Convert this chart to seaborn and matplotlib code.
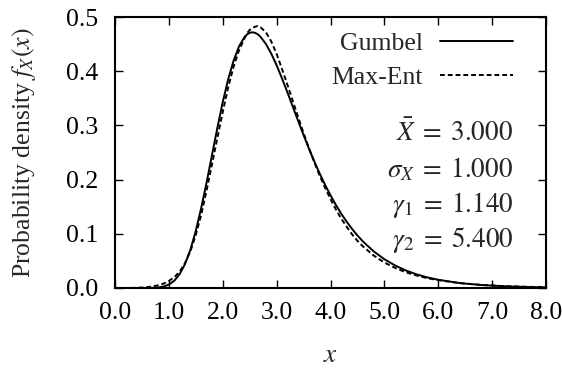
import numpy as np
import pandas as pd
import matplotlib
matplotlib.use("Agg")
import matplotlib.pyplot as plt
import seaborn as sns

x_vals = [0.0, 0.2, 0.4, 0.6, 0.7, 0.8, 0.9, 1.0, 1.1, 1.2, 1.3, 1.4, 1.5, 1.6, 1.7, 1.8, 1.9,
          2.0, 2.1, 2.2, 2.3, 2.4, 2.45, 2.5, 2.55, 2.6, 2.65, 2.7, 2.8, 2.9, 3.0, 3.1, 3.2,
          3.3, 3.4, 3.5, 3.6, 3.7, 3.8, 3.9, 4.0, 4.1, 4.2, 4.3, 4.4, 4.5, 4.6, 4.8, 5.0,
          5.2, 5.4, 5.6, 5.8, 6.0, 6.4, 6.8, 7.2, 7.6, 8.0]
gumbel = [0.0, 0.0, 0.0, 0.0001, 0.0003, 0.001, 0.00265, 0.0063, 0.0134, 0.0256, 0.0443,
          0.0708, 0.1055, 0.1476, 0.1947, 0.2451, 0.2955, 0.343, 0.3848, 0.419, 0.4454,
          0.4625, 0.4678, 0.4708, 0.4718, 0.4708, 0.4681, 0.4636, 0.4504, 0.4325, 0.411,
          0.3866, 0.361, 0.3345, 0.308, 0.2822, 0.257, 0.2334, 0.211, 0.1902, 0.171,
          0.1532, 0.137, 0.1223, 0.109, 0.0969, 0.0861, 0.0677, 0.0531, 0.0415, 0.0323,
          0.0251, 0.0195, 0.0152, 0.0091, 0.0055, 0.0033, 0.0020, 0.0012]
maxent = [0.0, 0.0, 0.0003, 0.0015, 0.003, 0.005, 0.008, 0.013, 0.020, 0.030, 0.046,
          0.068, 0.098, 0.135, 0.180, 0.228, 0.277, 0.325, 0.370, 0.408, 0.438,
          0.460, 0.470, 0.476, 0.480, 0.482, 0.4835, 0.481, 0.472, 0.455, 0.432,
          0.404, 0.375, 0.345, 0.315, 0.286, 0.258, 0.232, 0.207, 0.185, 0.164,
          0.145, 0.128, 0.113, 0.099, 0.087, 0.077, 0.060, 0.047, 0.037, 0.029,
          0.023, 0.018, 0.0145, 0.009, 0.0057, 0.0036, 0.0023, 0.0015]
series_names = ["Gumbel", "Max-Ent"]
stats_text = [r"$\bar{X}\;=\;3.000$", r"$\sigma_X\;=\;1.000$",
              r"$\gamma_1\;=\;1.140$", r"$\gamma_2\;=\;5.400$"]
x_ticks = [0, 1, 2, 3, 4, 5, 6, 7, 8]
y_ticks = [0.0, 0.1, 0.2, 0.3, 0.4, 0.5]

sns.set_theme(style="ticks")
plt.rcParams["font.family"] = ["Liberation Serif", "DejaVu Serif"]
plt.rcParams["mathtext.fontset"] = "stix"
FS = 18.5

df = pd.DataFrame({
    "x": x_vals * 2,
    "y": gumbel + maxent,
    "series": [series_names[0]] * len(x_vals) + [series_names[1]] * len(x_vals),
})

W, H = 562, 370
fig = plt.figure(figsize=(5.62, 3.70), dpi=100)
ax = fig.add_axes([115 / W, 1 - 288 / H, (546 - 115) / W, (288 - 17) / H])

sns.lineplot(data=df, x="x", y="y", hue="series", style="series",
             palette={"Gumbel": "black", "Max-Ent": "black"},
             dashes={"Gumbel": "", "Max-Ent": (2.5, 1.5)},
             linewidth=1.4, ax=ax, legend=True)

ax.set_xlim(0, 8)
ax.set_ylim(0, 0.5)
ax.set_xticks(x_ticks)
ax.set_xticklabels([f"{t:.1f}" for t in x_ticks], fontsize=FS)
ax.set_yticks(y_ticks)
ax.set_yticklabels([f"{t:.1f}" for t in y_ticks], fontsize=FS)
ax.tick_params(direction="in", length=6, width=1, top=True, right=True, colors="black")
ax.tick_params(axis="y", pad=12)
ax.tick_params(axis="x", pad=10)
for s in ax.spines.values():
    s.set_linewidth(1.5)
    s.set_color("black")
    s.set_visible(True)

ax.set_xlabel(r"$x$", fontsize=FS + 1)
ax.set_ylabel(r"Probability density $f_X(x)$", fontsize=FS)
ax.xaxis.set_label_coords(0.5, (288 - 355) / 271)
ax.xaxis.label.set_va("center")
ax.yaxis.set_label_coords((24 - 115) / 431, 0.5)
ax.yaxis.label.set_va("center")

leg = ax.legend(loc="upper right", frameon=False, markerfirst=False, handlelength=2.85,
                fontsize=FS, bbox_to_anchor=(513 / W, 1 - 32 / H),
                bbox_transform=fig.transFigure, borderaxespad=0, borderpad=0,
                labelspacing=0.43, handletextpad=0.66)

ys = [133, 170, 205, 240]
for t, yy in zip(stats_text, ys):
    fig.text(513 / W, 1 - yy / H, t, ha="right", va="center", fontsize=FS + 1)

fig.savefig("out.png", dpi=100)
